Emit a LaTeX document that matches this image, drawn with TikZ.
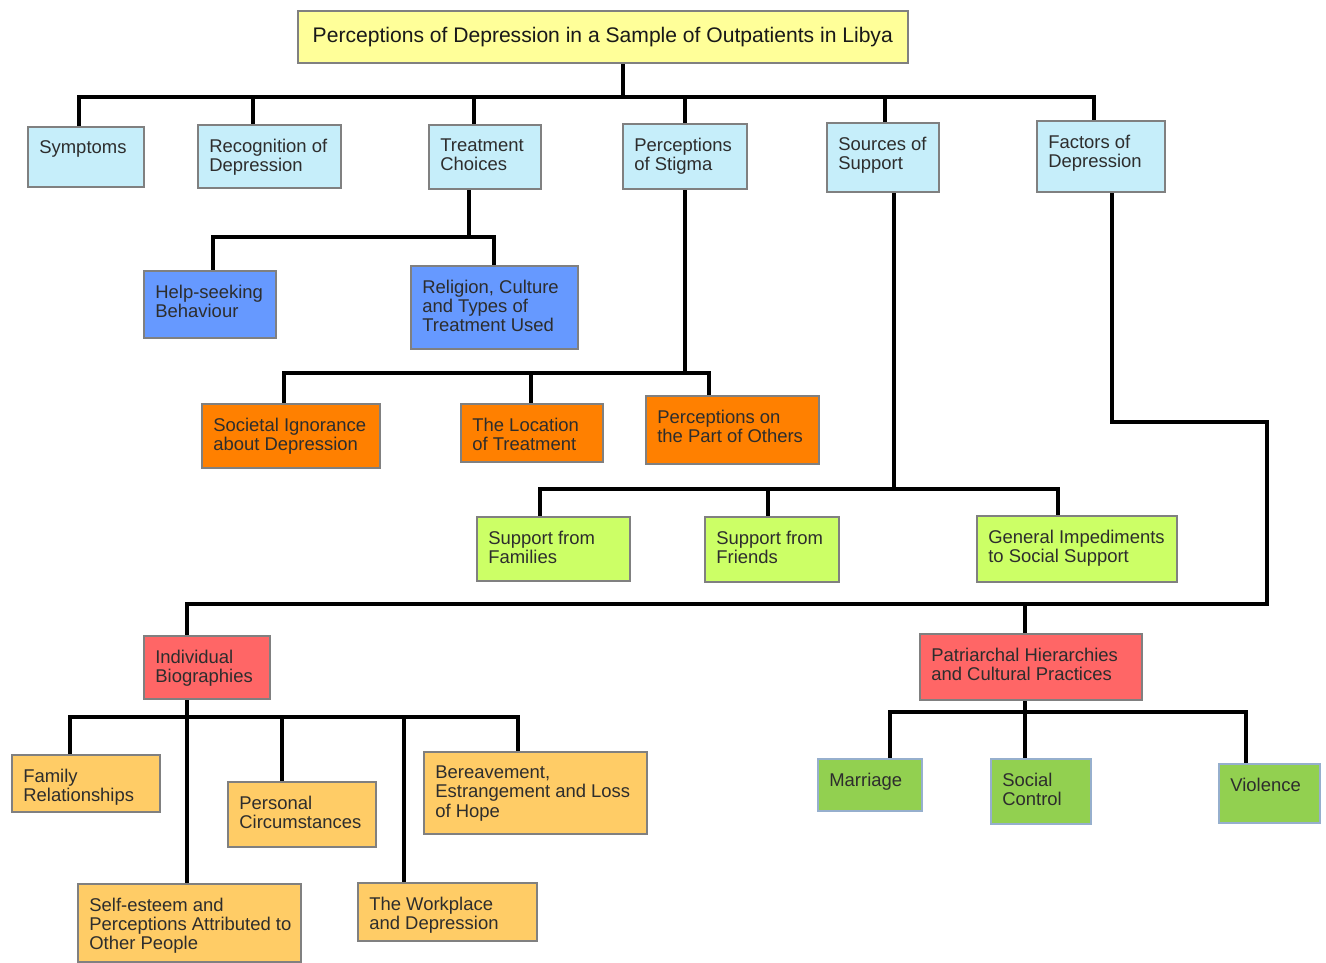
\documentclass[tikz,border=0pt]{standalone}
\usepackage{fontspec}
\setmainfont{Liberation Sans}
\usetikzlibrary{backgrounds,calc}
\definecolor{cTitle}{RGB}{255,255,153}
\definecolor{cLB}{RGB}{198,238,250}
\definecolor{cMB}{RGB}{102,153,255}
\definecolor{cOr}{RGB}{255,128,0}
\definecolor{cLG}{RGB}{204,255,102}
\definecolor{cRd}{RGB}{255,102,102}
\definecolor{cYO}{RGB}{255,204,102}
\definecolor{cGr}{RGB}{146,208,80}
\definecolor{cBd}{RGB}{128,128,128}
\definecolor{cBdB}{RGB}{150,175,205}
\definecolor{cTx}{RGB}{45,45,45}
% name, style, x1, y1, x2, y2, text
\newcommand\mkbox[7]{%
  \node[#2, anchor=north west, minimum width={(#5-#3)*0.02cm}, minimum height={(#6-#4)*0.02cm}] (#1) at (#3,#4) {};
  \node[txt, anchor=north west] (#1-t) at ([xshift=0.24cm,yshift=-0.29cm]#1.north west) {#7};
}
\begin{document}
\begin{tikzpicture}[x=0.02cm,y=-0.02cm,
  box/.style={draw=cBd, line width=0.9pt, rectangle, inner sep=0pt},
  lb/.style={box, fill=cLB},
  mb/.style={box, fill=cMB},
  orb/.style={box, fill=cOr},
  lgb/.style={box, fill=cLG},
  rdb/.style={box, fill=cRd},
  yob/.style={box, fill=cYO},
  grb/.style={box, draw=cBdB, fill=cGr},
  txt/.style={inner sep=0pt, align=left, text=cTx, font=\fontsize{10.5}{11}\selectfont},
  conn/.style={line width=2.2pt, draw=black, line join=miter}]
\useasboundingbox (0,0) rectangle (1326,963);

% title
\node[box, fill=cTitle, anchor=north west, minimum width={610*0.02cm}, minimum height={52*0.02cm},
  font=\fontsize{12}{14}\selectfont, text=black!90] (title) at (297,10)
  {\raisebox{1.5pt}{Perceptions of Depression in a Sample of Outpatients in Libya}};

% level 1
\mkbox{sym}{lb}{27}{126}{143}{186}{Symptoms}
\mkbox{rec}{lb}{197}{124}{340}{187}{Recognition of\\Depression}
\mkbox{tc}{lb}{428}{124}{540}{188}{Treatment\\Choices}
\mkbox{pos}{lb}{622}{123}{746}{188}{Perceptions\\of Stigma}
\mkbox{sos}{lb}{826}{122}{938}{191}{Sources of\\Support}
\mkbox{fac}{lb}{1036}{120}{1164}{191}{Factors of\\Depression}

% treatment children
\mkbox{help}{mb}{143}{270}{275}{337}{Help-seeking\\Behaviour}
\mkbox{rel}{mb}{410}{265}{577}{348}{Religion, Culture\\and Types of\\Treatment Used}

% stigma children
\mkbox{soc}{orb}{201}{403}{379}{467}{Societal Ignorance\\about Depression}
\mkbox{loc}{orb}{460}{403}{602}{461}{The Location\\of Treatment}
\mkbox{poth}{orb}{645}{395}{818}{463}{Perceptions on\\the Part of Others}

% support children
\mkbox{sfam}{lgb}{476}{516}{629}{580}{Support from\\Families}
\mkbox{sfri}{lgb}{704}{516}{838}{581}{Support from\\Friends}
\mkbox{gen}{lgb}{976}{515}{1176}{581}{General Impediments\\to Social Support}

% factors children
\mkbox{ib}{rdb}{143}{635}{269}{698}{Individual\\Biographies}
\mkbox{pat}{rdb}{919}{633}{1141}{699}{Patriarchal Hierarchies\\and Cultural Practices}

% biographies children
\mkbox{fam}{yob}{11}{754}{159}{811}{Family\\Relationships}
\mkbox{self}{yob}{77}{883}{300}{961}{Self-esteem and\\Perceptions Attributed to\\Other People}
\mkbox{per}{yob}{227}{781}{375}{846}{Personal\\Circumstances}
\mkbox{work}{yob}{357}{882}{536}{940}{The Workplace\\and Depression}
\mkbox{ber}{yob}{423}{751}{646}{833}{Bereavement,\\Estrangement and Loss\\of Hope}

% patriarchal children
\mkbox{mar}{grb}{817}{758}{921}{810}{Marriage}
\mkbox{scon}{grb}{990}{758}{1090}{823}{Social\\Control}
\mkbox{vio}{grb}{1218}{763}{1319}{822}{Violence}

% bus coordinates
\coordinate (r0) at (623,97);
\coordinate (b1) at (79,97);
\coordinate (b2) at (253,97);
\coordinate (b3) at (474,97);
\coordinate (b4) at (685,97);
\coordinate (b5) at (885,97);
\coordinate (b6) at (1094,97);
\coordinate (t0) at (469,237);
\coordinate (t1) at (213,237);
\coordinate (t2) at (494,237);
\coordinate (p0) at (685,373);
\coordinate (p1) at (284,373);
\coordinate (p2) at (531,373);
\coordinate (p3) at (709,373);
\coordinate (s0) at (894,489);
\coordinate (s1) at (540,489);
\coordinate (s2) at (768,489);
\coordinate (s3) at (1058,489);
\coordinate (f0) at (1112,422);
\coordinate (f1) at (1267,422);
\coordinate (f2) at (1267,604);
\coordinate (f3) at (187,604);
\coordinate (f4) at (1025,604);
\coordinate (i0) at (187,717);
\coordinate (i1) at (70,717);
\coordinate (i3) at (282,717);
\coordinate (i4) at (404,717);
\coordinate (i5) at (518,717);
\coordinate (q0) at (1025,712);
\coordinate (q1) at (890,712);
\coordinate (q3) at (1246,712);

\begin{scope}[on background layer]
\draw[conn] (r0 |- title.south) -- (r0);
\draw[conn] (b1 |- sym.north) -- (b1) -- (b6) -- (b6 |- fac.north);
\draw[conn] (b2) -- (b2 |- rec.north);
\draw[conn] (b3) -- (b3 |- tc.north);
\draw[conn] (b4) -- (b4 |- pos.north);
\draw[conn] (b5) -- (b5 |- sos.north);

\draw[conn] (t0 |- tc.south) -- (t0);
\draw[conn] (t1 |- help.north) -- (t1) -- (t2) -- (t2 |- rel.north);

\draw[conn] (p0 |- pos.south) -- (p0);
\draw[conn] (p1 |- soc.north) -- (p1) -- (p3) -- (p3 |- poth.north);
\draw[conn] (p2) -- (p2 |- loc.north);

\draw[conn] (s0 |- sos.south) -- (s0);
\draw[conn] (s1 |- sfam.north) -- (s1) -- (s3) -- (s3 |- gen.north);
\draw[conn] (s2) -- (s2 |- sfri.north);

\draw[conn] (f0 |- fac.south) -- (f0) -- (f1) -- (f2) -- (f3) -- (f3 |- ib.north);
\draw[conn] (f4) -- (f4 |- pat.north);

\draw[conn] (i0 |- ib.south) -- (i0 |- self.north);
\draw[conn] (i1 |- fam.north) -- (i1) -- (i5) -- (i5 |- ber.north);
\draw[conn] (i3) -- (i3 |- per.north);
\draw[conn] (i4) -- (i4 |- work.north);

\draw[conn] (q0 |- pat.south) -- (q0 |- scon.north);
\draw[conn] (q1 |- mar.north) -- (q1) -- (q3) -- (q3 |- vio.north);
\end{scope}
\end{tikzpicture}
\end{document}
